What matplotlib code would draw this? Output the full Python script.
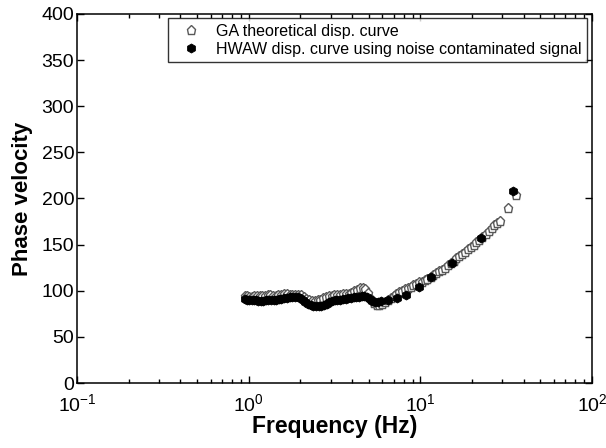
import matplotlib
matplotlib.use("Agg")
import matplotlib.pyplot as plt
from matplotlib.ticker import FixedLocator, LogLocator, NullFormatter

plt.rcParams["font.family"] = ["Liberation Sans", "DejaVu Sans"]
plt.rcParams["mathtext.fontset"] = "custom"
plt.rcParams["mathtext.rm"] = "Liberation Sans"

# GA theoretical dispersion curve
ga_freq = [0.95, 0.98, 1.01, 1.04, 1.08, 1.12, 1.16, 1.20, 1.24, 1.29, 1.34, 1.39,
           1.44, 1.49, 1.55, 1.61, 1.67, 1.73, 1.80, 1.87, 1.94, 2.01, 2.09, 2.17,
           2.25, 2.34, 2.43, 2.52, 2.62, 2.72, 2.82, 2.93, 3.04, 3.16, 3.28, 3.41,
           3.54, 3.68, 3.82, 3.97, 4.12, 4.28, 4.44, 4.61, 4.79, 4.97, 5.16, 5.36,
           5.57, 5.78, 6.01, 6.24, 6.48, 6.73, 6.99, 7.26, 7.54, 7.83, 8.13, 8.45,
           8.78, 9.12, 9.47, 9.84, 10.2, 10.6, 11.0, 11.5, 11.9, 12.4, 12.9, 13.4,
           13.9, 14.4, 15.0, 15.6, 16.2, 16.8, 17.5, 18.2, 18.9, 19.6, 20.4, 21.2,
           22.0, 23.0, 24.0, 25.0, 26.0, 27.0, 28.0, 29.0, 32.3, 36.0]
ga_vel = [94, 94, 93.5, 93.5, 94, 94.5, 94, 94, 94.5, 95, 95, 94.5,
          94.5, 95, 95.5, 96, 96, 95.5, 95, 95, 95.5, 95, 93, 91,
          89.5, 89, 89, 89.5, 90.5, 92, 93, 94, 94.5, 95, 95, 95.5,
          96, 96.5, 97, 98, 99.5, 101, 102.5, 103, 102, 98, 91, 86.5,
          85, 85, 86, 88, 90, 92.5, 94.5, 96.5, 98.5, 100, 101.5, 103,
          104.5, 106, 107.5, 109, 110, 111.5, 113, 115, 117, 119, 121, 123,
          125, 127.5, 130, 132.5, 135, 137.5, 140, 142.5, 145, 147.5, 150, 152.5,
          155, 158, 161.5, 165, 168, 171, 173.5, 176, 190, 203.5]

# HWAW dispersion curve from the noise-contaminated signal
hw_freq = [0.95, 0.98, 1.01, 1.04, 1.07, 1.10, 1.14, 1.18, 1.22, 1.26, 1.30, 1.35,
           1.40, 1.45, 1.50, 1.55, 1.61, 1.67, 1.73, 1.79, 1.86, 1.93, 2.00, 2.07,
           2.14, 2.22, 2.30, 2.38, 2.47, 2.56, 2.65, 2.75, 2.85, 2.95, 3.06, 3.17,
           3.29, 3.41, 3.54, 3.67, 3.80, 3.94, 4.08, 4.23, 4.39, 4.55, 4.72, 4.89,
           5.07, 5.26, 5.45, 5.65, 5.86, 6.5, 7.3, 8.3, 9.8, 11.6, 15.2, 22.7, 34.8]
hw_vel = [91, 90.5, 90, 90, 90, 89.5, 89, 88.5, 89, 89.5, 90, 90,
          90.5, 90.5, 91, 91.5, 92, 92.5, 93, 93.5, 93.5, 93.5, 92.5, 90.5,
          88, 86, 84.5, 83.5, 83, 83, 83.5, 84.5, 86, 87.5, 88.5, 89.5,
          90, 90.5, 91, 91.5, 92, 92.5, 93, 93, 93.5, 94, 94, 93,
          91, 89, 88, 88, 89, 90, 92, 95, 104, 115, 130, 157, 208]

x_ticks = [0.1, 1, 10, 100]
x_tick_labels = [r"$\mathregular{10^{-1}}$", r"$\mathregular{10^{0}}$",
                 r"$\mathregular{10^{1}}$", r"$\mathregular{10^{2}}$"]
y_ticks = [0, 50, 100, 150, 200, 250, 300, 350, 400]

fig = plt.figure(figsize=(6.06, 4.48), dpi=100)
ax = fig.add_axes([0.127, 0.145, 0.850, 0.824])

ax.plot(ga_freq, ga_vel, linestyle="none", marker="p", markersize=6.5,
        markerfacecolor="white", markeredgecolor="0.35", markeredgewidth=1.0,
        label="GA theoretical disp. curve")
ax.plot(hw_freq, hw_vel, linestyle="none", marker="h", markersize=6.5,
        markerfacecolor="black", markeredgecolor="black", markeredgewidth=0.6,
        label="HWAW disp. curve using noise contaminated signal")

ax.set_xscale("log")
ax.set_xlim(0.1, 100)
ax.set_ylim(0, 400)
ax.xaxis.set_major_locator(FixedLocator(x_ticks))
ax.set_xticklabels(x_tick_labels)
ax.xaxis.set_minor_locator(LogLocator(base=10, subs=range(2, 10)))
ax.xaxis.set_minor_formatter(NullFormatter())
ax.set_yticks(y_ticks)

ax.tick_params(which="both", direction="in", top=True, right=True,
               labelsize=14, width=1.0)
ax.tick_params(which="major", length=5)
ax.tick_params(which="minor", length=3)
ax.tick_params(axis="x", which="major", pad=7)
ax.tick_params(axis="y", which="major", pad=2)
for s in ax.spines.values():
    s.set_linewidth(1.1)

ax.set_xlabel("Frequency (Hz)", fontsize=16.5, fontweight="bold", labelpad=0)
ax.set_ylabel("Phase velocity", fontsize=16, fontweight="bold", labelpad=6)

leg = ax.legend(loc="upper right", bbox_to_anchor=(0.991, 0.989), fontsize=11.5,
                numpoints=1, frameon=True, fancybox=False, borderaxespad=0.0,
                handletextpad=0.5, borderpad=0.35, labelspacing=0.2,
                handlelength=2.2)
leg.get_frame().set_edgecolor("black")
leg.get_frame().set_linewidth(1.0)

fig.savefig("out.png", dpi=100)
